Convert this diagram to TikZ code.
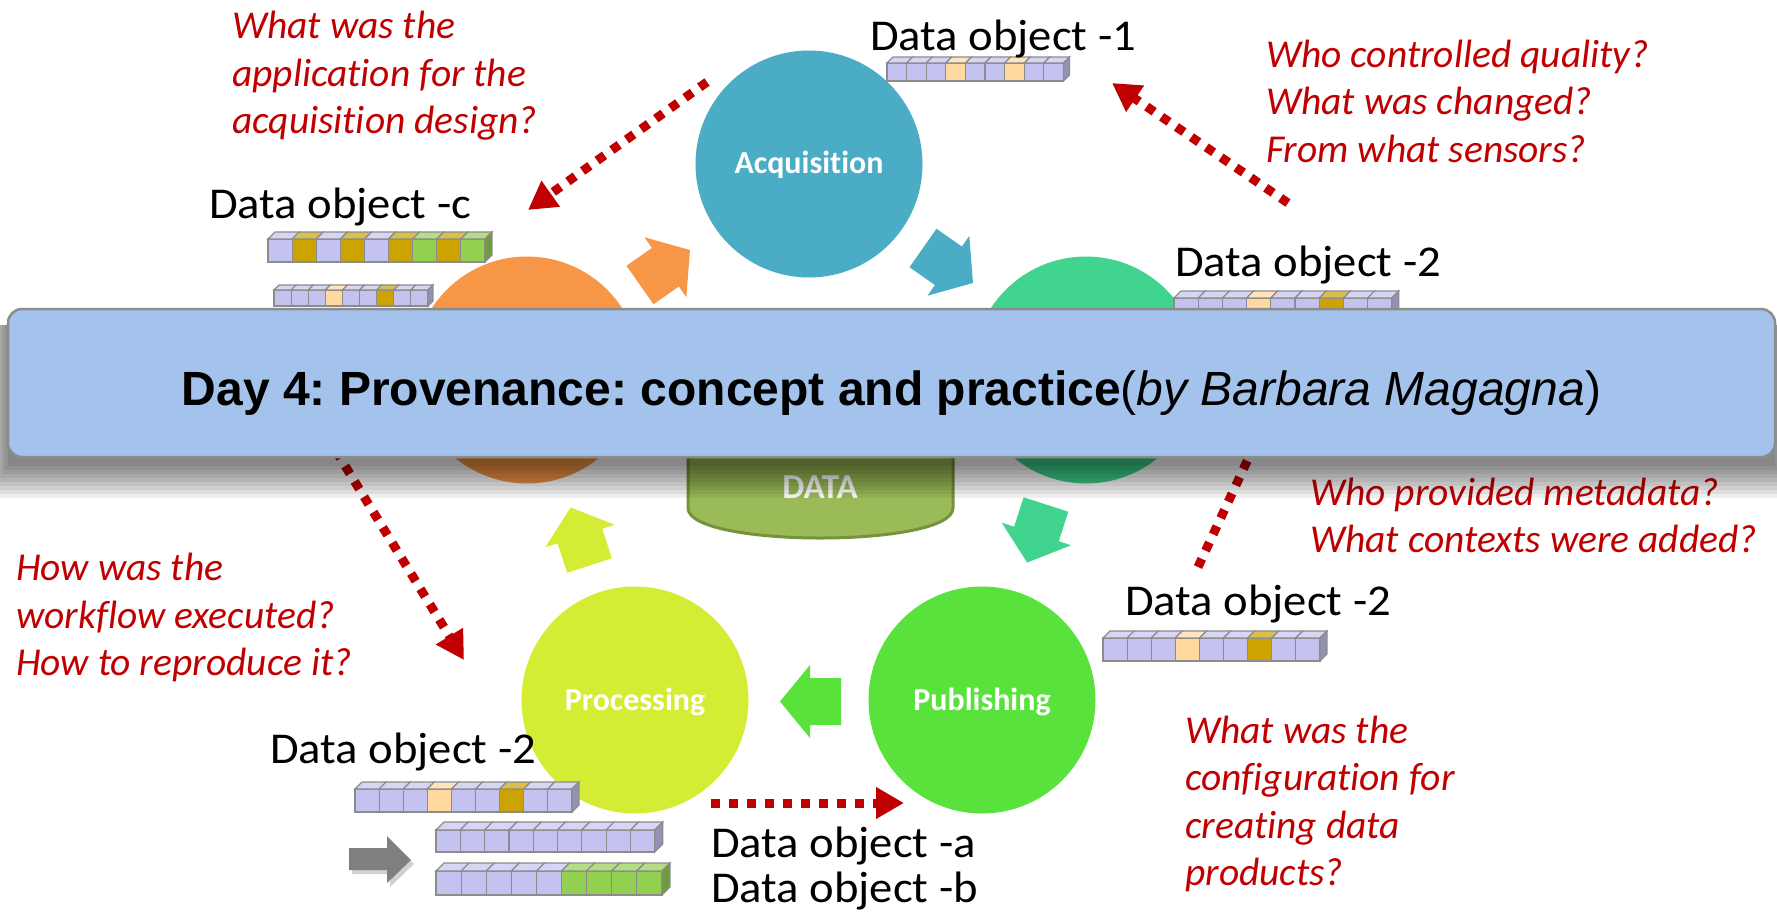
\documentclass[tikz,border=0pt]{standalone}
\usepackage{fontspec}
\setmainfont{Carlito}[Ligatures=NoCommon]
\newfontfamily\titlefont{Liberation Sans}
\newfontfamily\objfont{Carlito}[FakeStretch=1.06, Ligatures=NoCommon]
\usetikzlibrary{arrows.meta}
\frenchspacing

\definecolor{acqblue}{HTML}{4BACC6}
\definecolor{curorange}{HTML}{F79646}
\definecolor{pubteal}{HTML}{40D48E}
\definecolor{procyellow}{HTML}{D5EC35}
\definecolor{pubgreen}{HTML}{5AE23C}
\definecolor{dataolive}{HTML}{9BBB59}
\definecolor{dataedge}{HTML}{76923C}
\definecolor{qred}{HTML}{C00000}
\definecolor{bannerblue}{HTML}{A4C3EC}
\definecolor{banneredge}{HTML}{8C8C8C}
\definecolor{lav}{HTML}{C4C3F0}
\definecolor{peach}{HTML}{FFD9A0}
\definecolor{cgold}{HTML}{CCA300}
\definecolor{leaf}{HTML}{92D050}
\definecolor{celledge}{HTML}{8C8C8C}
\definecolor{stepgray}{HTML}{7F7F7F}

\tikzset{
  stage/.style={circle, minimum size=227pt, inner sep=0pt},
  stagelabel/.style={text=white, font=\bfseries\fontsize{32}{38}\selectfont, anchor=base, inner sep=0pt},
  question/.style={text=qred, font=\itshape\fontsize{39.5}{47.5}\selectfont, anchor=base west, inner sep=0pt},
  objlabel/.style={font=\objfont\fontsize{44}{50}\selectfont, anchor=base west, inner sep=0pt},
  probe/.style={draw=qred, line width=9pt, dash pattern=on 9pt off 9pt,
                -{Triangle[length=28pt,width=30pt,fill=qred]}},
  cellline/.style={draw=celledge, line width=1.2pt},
}

% block arrow: tail centre x, tail centre y, direction, colour
\newcommand\flowarrow[4]{%
  \fill[#4, shift={(#1,#2)}, rotate=#3]
    (0,-23.5) -- (31,-23.5) -- (31,-36.5) -- (61,0) -- (31,36.5) -- (31,23.5) -- (0,23.5) -- cycle;}

% row of cubes: left x, top y of front faces, cell width, cell height, depth,
% list of colours, colour of the end face, number of cells
\newcommand\databar[8]{%
  \foreach \c [count=\i from 0] in {#6}{%
    \pgfmathsetmacro\xa{#1+\i*#3}%
    \pgfmathsetmacro\xb{#1+(\i+1)*#3}%
    \filldraw[cellline, fill=\c] (\xa,#2) rectangle (\xb,#2+#4);
    \filldraw[cellline, fill=\c!70!white] (\xa,#2) -- (\xa+#5,#2-#5) -- (\xb+#5,#2-#5) -- (\xb,#2) -- cycle;
  }%
  \pgfmathsetmacro\xe{#1+#8*#3}%
  \filldraw[cellline, fill=#7!75!black] (\xe,#2) -- (\xe+#5,#2-#5) -- (\xe+#5,#2+#4-#5) -- (\xe,#2+#4) -- cycle;
}

\begin{document}
\begin{tikzpicture}[x=1pt, y=-1pt]
\useasboundingbox (0,0) rectangle (1777,914);
\fill[white] (0,0) rectangle (1777,914);

% lifecycle stages
\node[stage, fill=acqblue]    (acq)  at (809,164) {};
\node[stage, fill=curorange]  (cur)  at (527,370) {};
\node[stage, fill=pubteal]    (desc) at (1086,370) {};
\node[stage, fill=procyellow] (proc) at (635,700) {};
\node[stage, fill=pubgreen]   (pub)  at (982,700) {};
\node[stagelabel] (acqtext)  at (809,173) {Acquisition};
\node[stagelabel] (proctext) at (635,710) {Processing};
\node[stagelabel] (pubtext)  at (982,710) {Publishing};

% cycle arrows
\flowarrow{640}{285}{35}{curorange}
\flowarrow{923}{248}{-35}{acqblue}
\flowarrow{1046}{504.5}{-108}{pubteal}
\flowarrow{841}{701.5}{180}{pubgreen}
\flowarrow{589.5}{565.5}{108}{procyellow}

% central data store
\filldraw[fill=dataolive, draw=dataedge, line width=3pt]
  (688,400) -- (688,508) .. controls (688,548) and (953,548) .. (953,508) -- (953,400) -- cycle;
\node[text=white, font=\bfseries\fontsize{35}{40}\selectfont, anchor=base, inner sep=0pt] (datatext) at (820,498) {DATA};

% provenance questions: dotted pointers
\coordinate (q1from) at (707,82);    \coordinate (q1to) at (528,210);
\coordinate (q2from) at (1288,203);  \coordinate (q2to) at (1112,83);
\coordinate (q3from) at (1198,567);  \coordinate (q3to) at (1280,390);
\coordinate (q4from) at (317,420);   \coordinate (q4to) at (464,660);
\coordinate (q5from) at (711,803);   \coordinate (q5to) at (904,803);
\draw[probe] (q1from) -- (q1to);
\draw[probe] (q2from) -- (q2to);
\draw[probe] (q3from) -- (q3to);
\draw[probe] (q4from) -- (q4to);
\draw[probe] (q5from) -- (q5to);

% data objects
\databar{887}{63}{19.6}{18}{6}{lav,lav,lav,peach,lav,lav,peach,lav,lav}{lav}{9}
\databar{268}{239}{24.1}{23}{7}{lav,cgold,lav,cgold,lav,cgold,leaf,cgold,leaf}{leaf}{9}
\databar{274}{290}{17.1}{16}{5}{lav,lav,lav,peach,lav,lav,cgold,lav,lav}{lav}{9}
\databar{1174}{298}{24.2}{23}{7}{lav,lav,lav,peach,lav,lav,cgold,lav,lav}{lav}{9}
\databar{1103}{638}{24.1}{23}{7}{lav,lav,lav,peach,lav,lav,cgold,lav,lav}{lav}{9}
\databar{355}{789}{24.1}{23}{7}{lav,lav,lav,peach,lav,lav,cgold,lav,lav}{lav}{9}
\databar{436}{830}{24.3}{22}{8}{lav,lav,lav,lav,lav,lav,lav,lav,lav}{lav}{9}
\databar{436}{871}{25.1}{24}{8}{lav,lav,lav,lav,lav,leaf,leaf,leaf,leaf}{leaf}{9}

% split step arrow
\fill[black, opacity=0.18] (352,852) -- (390,852) -- (390,840) -- (414,864) -- (390,887) -- (390,874) -- (352,874) -- cycle;
\fill[stepgray] (349,848) -- (387,848) -- (387,836) -- (411,860) -- (387,883) -- (387,870) -- (349,870) -- cycle;

\node[objlabel] (obj1)  at (870,50)   {Data object -1};
\node[objlabel] (objc)  at (209,218)  {Data object -c};
\node[objlabel] (obj2a) at (1175,276) {Data object -2};
\node[objlabel] (obj2b) at (1125,615) {Data object -2};
\node[objlabel] (obj2c) at (270,763)  {Data object -2};
\node[objlabel] (obja)  at (711,857)  {Data object -a};
\node[objlabel] (objb)  at (711,902)  {Data object -b};

% questions
\node[question] (qa1) at (232,38)  {What was the};
\node[question] (qa2) at (232,86)  {application for the};
\node[question] (qa3) at (232,133) {acquisition design?};
\node[question] (qb1) at (1266,67)  {Who controlled quality?};
\node[question] (qb2) at (1266,114) {What was changed?};
\node[question] (qb3) at (1266,162) {From what sensors?};
\node[question] (qc1) at (1310,505) {Who provided metadata?};
\node[question] (qc2) at (1310,552) {What contexts were added?};
\node[question] (qd1) at (16,580) {How was the};
\node[question] (qd2) at (16,628) {workflow executed?};
\node[question] (qd3) at (16,675) {How to reproduce it?};
\node[question] (qe1) at (1185,743) {What was the};
\node[question] (qe2) at (1185,790) {configuration for};
\node[question] (qe3) at (1185,838) {creating data};
\node[question] (qe4) at (1185,885) {products?};

% title banner with its soft shadow
\foreach \k in {0,...,8}
  \fill[black, opacity=0.065] (8-3*\k,325) rectangle (1775+3*\k,466+4*\k);
\node[draw=banneredge, fill=bannerblue, line width=2.5pt, rounded corners=14pt,
      minimum width=1767pt, minimum height=148pt, inner sep=0pt] (banner) at (891.5,383) {};
\node[anchor=base, inner sep=0pt, font=\titlefont\fontsize{48}{56}\selectfont] (title) at (891.5,405)
  {\textbf{Day 4: Provenance: concept and practice}(\textit{by Barbara Magagna})};
\end{tikzpicture}
\end{document}
